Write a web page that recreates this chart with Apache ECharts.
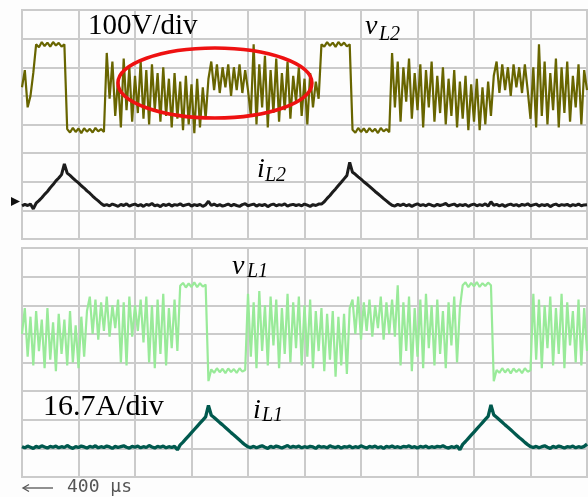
<!DOCTYPE html>
<html>
<head>
<meta charset="utf-8">
<script src="https://cdn.jsdelivr.net/npm/echarts@6/dist/echarts.min.js"></script>
<style>
html,body{margin:0;padding:0;background:#ffffff;}
#c{width:588px;height:497px;}
</style>
</head>
<body>
<div id="c"></div>
<script>
// time base: 400 us/div, samples every 20 us (0 .. 4000 us)
var stepUs = 20;
var timeTicks = [0, 400, 800, 1200, 1600, 2000, 2400, 2800, 3200, 3600, 4000];
// vertical values in screen divisions (0..8 per panel)
var vL2 = [
5.3, 5.9, 4.6, 5.0, 5.8,
6.8, 6.7, 6.88, 6.74, 6.86, 6.72, 6.88, 6.76, 6.85, 6.72, 6.8,
3.84, 3.72, 3.88, 3.74, 3.86, 3.7, 3.87, 3.75, 3.85, 3.72, 3.88, 3.76, 3.84, 3.74,
6.5, 4.9, 6.2, 4.3, 5.6, 3.9, 6.3, 4.5, 6.0, 4.1, 5.7, 4.4, 6.2, 4.2, 5.9, 4.0, 6.1, 4.5, 5.8, 4.1, 6.0, 4.3, 5.6, 3.9, 5.8, 4.2, 5.5, 3.8, 5.7, 4.0, 5.4, 3.7, 5.6, 3.9, 5.3, 4.2,
5.6, 6.2, 5.2, 6.1, 5.1, 6.0, 5.3, 6.1, 5.0, 6.0, 5.2, 6.1, 5.1, 5.9, 5.2,
4.3, 6.8, 4.0, 6.1, 4.6, 6.4, 3.9, 5.9, 4.4, 6.3, 4.1, 5.8, 4.5, 6.2, 4.2, 5.7, 4.8, 6.0, 4.3, 5.6, 4.0, 5.8, 4.6, 5.5, 4.9,
6.8, 6.72, 6.88, 6.75, 6.86, 6.71, 6.88, 6.76, 6.86, 6.73, 6.8,
3.82, 3.71, 3.88, 3.74, 3.86, 3.72, 3.87, 3.75, 3.85, 3.7, 3.88, 3.76, 3.84, 3.73,
6.5, 4.6, 6.2, 4.1, 6.0, 4.8, 6.3, 4.2, 5.8, 4.5, 6.1, 3.9, 5.9, 4.6, 6.2, 4.1, 5.7, 4.4, 6.0, 4.0, 5.6, 4.3, 5.9, 3.9, 5.5, 4.2, 5.7, 3.8, 5.4, 4.1, 5.6, 3.8, 5.3, 4.0, 5.5, 4.3,
5.7, 6.2, 5.1, 6.1, 5.2, 6.0, 5.0, 6.1, 5.3, 6.0, 5.1, 6.1, 5.2,
4.2, 6.0, 3.9, 6.8, 4.3, 6.2, 4.0, 5.8, 4.5, 6.3, 3.9, 6.0, 4.4, 6.2, 4.1, 5.7, 4.6, 6.1, 4.0, 5.9, 5.2
];
var iL2 = [
1.16, 1.21, 1.17, 1.22, 1.05,
1.25, 1.34, 1.44, 1.56, 1.66, 1.79, 1.9, 2.03, 2.13, 2.25,
2.62, 2.3,
2.22, 2.13, 2.04, 1.96, 1.86, 1.78, 1.68, 1.6, 1.5, 1.41, 1.33, 1.24, 1.17,
1.2, 1.16, 1.22, 1.18, 1.14, 1.21, 1.17, 1.23, 1.15, 1.19,
1.22, 1.16, 1.2, 1.14, 1.21, 1.18, 1.24, 1.16, 1.19, 1.13,
1.21, 1.17, 1.22, 1.15, 1.2, 1.18, 1.23, 1.16, 1.19, 1.22,
1.15, 1.2, 1.17, 1.21, 1.14, 1.19, 1.32, 1.17, 1.22, 1.16,
1.2, 1.15, 1.18, 1.22, 1.16, 1.21, 1.17, 1.14, 1.2, 1.23,
1.16, 1.19, 1.22, 1.15, 1.2, 1.17, 1.21, 1.13, 1.19, 1.22,
1.16, 1.2, 1.18, 1.23, 1.15, 1.19, 1.21, 1.17, 1.2, 1.16,
1.22, 1.18, 1.14, 1.2, 1.17, 1.22,
1.22, 1.3, 1.42, 1.52, 1.64, 1.75, 1.87, 1.98, 2.1, 2.22,
2.68, 2.33,
2.26, 2.17, 2.09, 2.0, 1.92, 1.84, 1.75, 1.66, 1.58, 1.5, 1.41, 1.33, 1.25, 1.18,
1.15, 1.21, 1.17, 1.22, 1.16, 1.2, 1.14, 1.19, 1.23, 1.17,
1.2, 1.16, 1.22, 1.18, 1.15, 1.21, 1.17, 1.2, 1.24, 1.16,
1.19, 1.22, 1.15, 1.2, 1.17, 1.21, 1.14, 1.19, 1.22, 1.16,
1.2, 1.17, 1.23, 1.15, 1.3, 1.18, 1.21, 1.16, 1.2, 1.14,
1.19, 1.22, 1.17, 1.2, 1.15, 1.21, 1.18, 1.23, 1.16, 1.19,
1.22, 1.15, 1.2, 1.17, 1.21, 1.13, 1.19, 1.22, 1.16, 1.2,
1.18, 1.21, 1.15, 1.2, 1.17, 1.22, 1.16, 1.19, 1.2
];
var vL1 = [
5.0, 5.9, 4.2, 5.6, 3.9, 5.8, 4.4, 5.5, 3.8, 5.9, 4.1, 5.4, 3.7, 5.7, 4.3, 5.5, 3.9, 5.8, 4.0, 5.3, 3.8, 5.6, 4.2,
5.8, 6.3, 5.0, 6.2, 4.8, 6.1, 5.1, 6.3, 4.9, 6.0, 5.2, 6.2, 4.0, 6.1, 3.9, 6.3, 4.9, 6.0, 5.1, 6.2, 4.7,
6.3, 4.0, 6.0, 3.8, 6.2, 4.3, 6.4, 3.9, 5.9, 4.5, 6.2, 4.4,
6.68, 6.78, 6.62, 6.76, 6.64, 6.8, 6.63, 6.77, 6.65, 6.72,
3.35, 3.76, 3.64, 3.8, 3.66, 3.78, 3.63, 3.79, 3.67, 3.77, 3.64, 3.8, 3.68, 3.74,
6.4, 4.2, 6.1, 3.8, 6.5, 4.4, 6.0, 3.9, 6.3, 4.6, 6.2, 3.8, 5.9, 4.3, 6.4, 4.0, 6.1, 4.5, 6.3, 3.9, 6.0, 4.2, 6.2, 3.8, 5.8, 4.4, 5.9, 3.7, 5.7, 4.1, 5.8, 3.5, 5.6, 3.9, 5.7, 3.6,
5.9, 6.2, 5.0, 6.3, 4.8, 6.1, 5.1, 6.2, 4.9, 6.0, 5.2, 6.3, 4.8, 6.1, 5.0, 6.2, 4.9,
6.7, 3.9, 6.1, 4.4, 6.3, 3.7, 5.9, 4.2, 6.2, 3.8, 6.4, 4.5, 6.0, 3.9, 6.2, 4.3, 5.8, 3.8, 6.1, 4.6, 6.3, 4.0, 5.9,
6.7, 6.8, 6.63, 6.78, 6.66, 6.81, 6.64, 6.77, 6.67, 6.79, 6.7,
3.35, 3.74, 3.64, 3.8, 3.65, 3.78, 3.62, 3.79, 3.67, 3.77, 3.63, 3.8, 3.68, 3.73,
6.4, 4.1, 6.2, 3.8, 6.0, 4.5, 6.3, 3.9, 5.9, 4.3, 6.4, 3.8, 6.1, 4.6, 5.8, 4.0, 6.2, 3.9, 5.9, 4.4
];
var iL1 = [
1.06, 1.02, 1.08, 1.04, 1.0, 1.07, 1.03, 1.09, 1.05, 1.01,
1.07, 1.04, 1.08, 1.02, 1.06, 1.03, 1.1, 1.04, 1.0, 1.06,
1.03, 1.08, 1.05, 1.01, 1.07, 1.04, 1.09, 1.02, 1.06, 1.03,
1.08, 1.05, 1.0, 1.07, 1.03, 1.06, 1.09, 1.04, 1.01, 1.07,
1.04, 1.08, 1.02, 1.06, 1.03, 1.1, 1.05, 1.01, 1.07, 1.04,
1.08, 1.02, 1.06, 1.03, 1.07, 0.95,
1.12, 1.22, 1.33, 1.44, 1.55, 1.66, 1.77, 1.88, 1.99, 2.1,
2.5, 2.16,
2.08, 1.99, 1.9, 1.82, 1.73, 1.64, 1.55, 1.47, 1.38, 1.29, 1.2, 1.12, 1.05,
1.03, 1.07, 1.02, 1.06, 1.09, 1.04, 1.0, 1.07, 1.03, 1.08,
1.05, 1.01, 1.06, 1.1, 1.03, 1.07, 1.04, 1.08, 1.02, 1.06,
1.03, 1.07, 1.05, 1.0, 1.08, 1.04, 1.06, 1.02, 1.09, 1.05,
1.03, 1.07, 1.01, 1.06, 1.04, 1.08, 1.02, 1.06, 1.03, 1.09,
1.05, 1.01, 1.07, 1.04, 1.08, 1.02, 1.06, 1.0, 1.07, 1.04,
1.08, 1.03, 1.06, 1.02, 1.07, 1.05, 1.09, 1.03, 1.06, 1.01,
1.07, 1.04, 1.08, 1.02, 1.06, 1.03, 1.07, 1.05, 1.09, 1.04,
1.01, 1.06, 1.03, 1.08, 0.95,
1.14, 1.24, 1.35, 1.46, 1.57, 1.68, 1.79, 1.9, 2.01, 2.12,
2.52, 2.17,
2.09, 2.0, 1.91, 1.82, 1.74, 1.65, 1.56, 1.47, 1.38, 1.3, 1.21, 1.13, 1.06,
1.03, 1.07, 1.02, 1.06, 1.09, 1.04, 1.0, 1.07, 1.03, 1.08, 1.05, 1.01, 1.06, 1.04, 1.08, 1.02, 1.06, 1.03, 1.07, 1.15
];
// annotation (ellipse) in data coords of the top panel
var ellipseCenter = [1366, 5.45];

function toPairs(arr) {
  return arr.map(function (v, i) { return [i * stepUs, v]; });
}

var gridColor = '#cbcbcb';
function xAx(gi) {
  return {
    type: 'value', gridIndex: gi, min: timeTicks[0], max: timeTicks[timeTicks.length - 1], interval: 400,
    axisLine: { show: false }, axisTick: { show: false }, axisLabel: { show: false },
    splitLine: { show: true, lineStyle: { color: gridColor, width: 2 } }
  };
}
function yAx(gi) {
  return {
    type: 'value', gridIndex: gi, min: 0, max: 8, interval: 1,
    axisLine: { show: false }, axisTick: { show: false }, axisLabel: { show: false },
    splitLine: { show: true, lineStyle: { color: gridColor, width: 2 } }
  };
}

var chart = echarts.init(document.getElementById('c'), null, { renderer: 'canvas' });
var option = {
  animation: false,
  backgroundColor: '#fdfdfd',
  grid: [
    { left: 22, top: 10, width: 565, height: 229, show: true, borderColor: gridColor, borderWidth: 2, backgroundColor: 'transparent' },
    { left: 22, top: 248, width: 565, height: 229, show: true, borderColor: gridColor, borderWidth: 2, backgroundColor: 'transparent' }
  ],
  xAxis: [xAx(0), xAx(1)],
  yAxis: [yAx(0), yAx(1)],
  series: [
    { type: 'line', xAxisIndex: 0, yAxisIndex: 0, data: toPairs(vL2), showSymbol: false, symbol: 'none',
      lineStyle: { color: '#686500', width: 2.2 } },
    { type: 'line', xAxisIndex: 0, yAxisIndex: 0, data: toPairs(iL2), showSymbol: false, symbol: 'none',
      lineStyle: { color: '#1c1c1c', width: 3 } },
    { type: 'line', xAxisIndex: 1, yAxisIndex: 1, data: toPairs(vL1), showSymbol: false, symbol: 'none',
      lineStyle: { color: '#99ea99', width: 2.2 } },
    { type: 'line', xAxisIndex: 1, yAxisIndex: 1, data: toPairs(iL1), showSymbol: false, symbol: 'none',
      lineStyle: { color: '#00594e', width: 3.3 } }
  ]
};
chart.setOption(option);

var c0 = chart.convertToPixel({ gridIndex: 0 }, ellipseCenter);
var serif = '"Liberation Serif", "Times New Roman", serif';
function txt(x, y, s, size, italic) {
  return { type: 'text', x: x, y: y, z: 100,
    style: { text: s, font: (italic ? 'italic ' : '') + size + 'px ' + serif, fill: '#000', align: 'left', verticalAlign: 'middle' } };
}
chart.setOption({
  graphic: [
    { type: 'ellipse', z: 90, shape: { cx: c0[0], cy: c0[1], rx: 97, ry: 35 },
      style: { fill: 'none', stroke: '#ee1111', lineWidth: 3.5 } },
    txt(88, 26, '100V/div', 29, false),
    txt(43, 407, '16.7A/div', 30, false),
    txt(365, 27, 'v', 28, true),
    txt(379, 35, 'L2', 20, true),
    txt(257, 170, 'i', 28, true),
    txt(265, 176, 'L2', 20, true),
    txt(232, 267, 'v', 28, true),
    txt(247, 272, 'L1', 20, true),
    txt(253, 411, 'i', 28, true),
    txt(262, 416, 'L1', 20, true),
    { type: 'polygon', z: 95, shape: { points: [[11, 197], [20, 201.5], [11, 206]] }, style: { fill: '#111' } },
    { type: 'line', z: 95, shape: { x1: 24, y1: 488, x2: 53, y2: 488 }, style: { stroke: '#555', lineWidth: 1.3 } },
    { type: 'polyline', z: 95, shape: { points: [[29, 484.5], [23, 488], [29, 491.5]] }, style: { stroke: '#555', lineWidth: 1.3, fill: 'none' } },
    { type: 'text', x: 67, y: 487, z: 100,
      style: { text: '400 \u03bcs', font: '18px "DejaVu Sans Mono", monospace', fill: '#555', align: 'left', verticalAlign: 'middle' } }
  ]
});
</script>
</body>
</html>
